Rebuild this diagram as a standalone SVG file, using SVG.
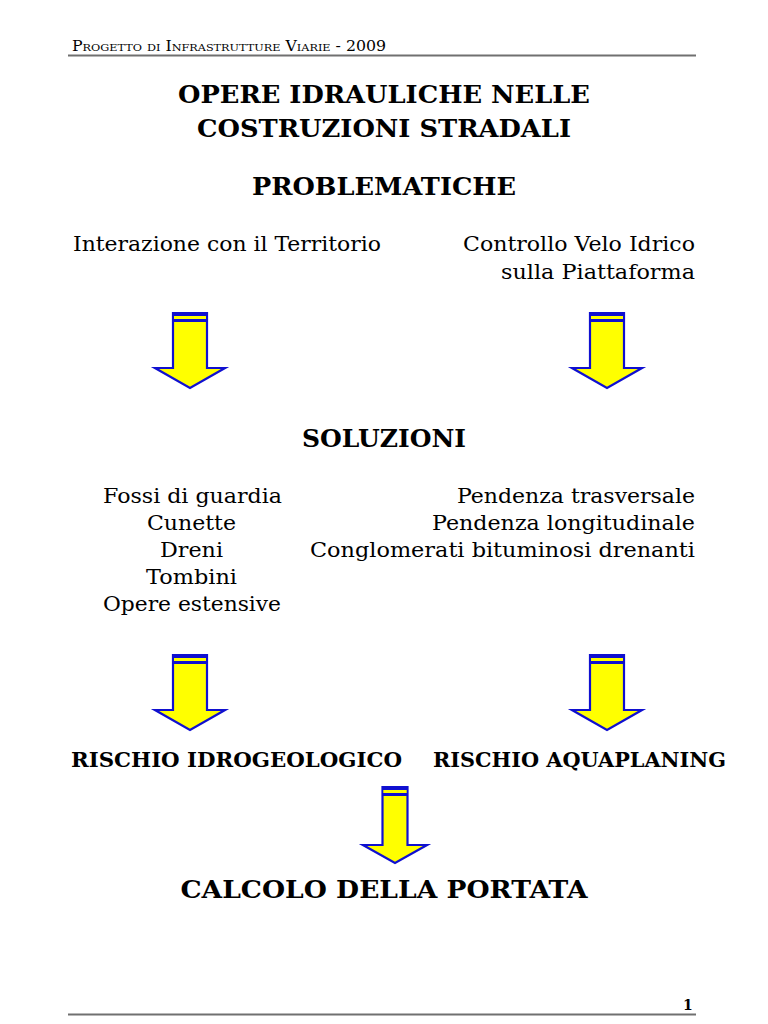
<svg xmlns="http://www.w3.org/2000/svg" width="768" height="1024" viewBox="0 0 768 1024">
<defs>
<style>
.t{font-family:"DejaVu Serif","Liberation Serif",serif;fill:#000}
.b{font-weight:bold}
.c{text-anchor:middle}
.r{text-anchor:end}
.n{font-size:20px}
.h{font-size:24px}
.s{font-size:20.5px}
.ar-shaft{fill:#ffff00;stroke:#1010d0;stroke-width:2.2;stroke-linejoin:miter}
.ar-band{fill:#1010d0}
.ar-gap{fill:#ffff00}
</style>
<g id="arrowBig">
<path class="ar-shaft" d="M-17,0 H17 V55 H35 L0,75 L-35,55 H-17 Z"/>
<rect class="ar-band" x="-17" y="0" width="34" height="3"/>
<rect class="ar-gap" x="-16" y="3" width="32" height="3"/>
<rect class="ar-band" x="-17" y="6" width="34" height="3"/>
</g>
<g id="arrowSmall">
<path class="ar-shaft" d="M-12.5,0 H12.5 V58 H32 L0,76 L-32,58 H-12.5 Z"/>
<rect class="ar-band" x="-12.5" y="0" width="25" height="3"/>
<rect class="ar-gap" x="-11.5" y="3" width="23" height="3"/>
<rect class="ar-band" x="-12.5" y="6" width="25" height="3"/>
</g>
</defs>
<rect width="768" height="1024" fill="#fff"/>

<g id="header">
<text class="t" x="72" y="51" font-size="14" style="font-variant:small-caps" textLength="314" lengthAdjust="spacingAndGlyphs">Progetto di Infrastrutture Viarie - 2009</text>
<line x1="68" y1="55.5" x2="696" y2="55.5" stroke="#707070" stroke-width="2"/>
</g>

<g id="title">
<text class="t b c h" x="384" y="103" textLength="412" lengthAdjust="spacingAndGlyphs">OPERE IDRAULICHE NELLE</text>
<text class="t b c h" x="384" y="137" textLength="374" lengthAdjust="spacingAndGlyphs">COSTRUZIONI STRADALI</text>
</g>

<g id="problematiche">
<text class="t b c h" x="384" y="195" textLength="264" lengthAdjust="spacingAndGlyphs">PROBLEMATICHE</text>
</g>

<g id="interazione">
<text class="t n" x="73" y="251" textLength="308" lengthAdjust="spacingAndGlyphs">Interazione con il Territorio</text>
</g>

<g id="controllo">
<text class="t n r" x="695" y="251" textLength="232" lengthAdjust="spacingAndGlyphs">Controllo Velo Idrico</text>
<text class="t n r" x="695" y="279" textLength="194" lengthAdjust="spacingAndGlyphs">sulla Piattaforma</text>
</g>

<g id="soluzioni">
<text class="t b c h" x="384" y="447" textLength="164" lengthAdjust="spacingAndGlyphs">SOLUZIONI</text>
</g>

<g id="soluzioni-territorio">
<text class="t n c" x="192.5" y="503" textLength="179" lengthAdjust="spacingAndGlyphs">Fossi di guardia</text>
<text class="t n c" x="191.5" y="530" textLength="89" lengthAdjust="spacingAndGlyphs">Cunette</text>
<text class="t n c" x="191.5" y="557" textLength="63" lengthAdjust="spacingAndGlyphs">Dreni</text>
<text class="t n c" x="191.5" y="584" textLength="91" lengthAdjust="spacingAndGlyphs">Tombini</text>
<text class="t n c" x="192" y="611" textLength="178" lengthAdjust="spacingAndGlyphs">Opere estensive</text>
</g>

<g id="soluzioni-piattaforma">
<text class="t n r" x="695" y="503" textLength="238" lengthAdjust="spacingAndGlyphs">Pendenza trasversale</text>
<text class="t n r" x="695" y="530" textLength="263" lengthAdjust="spacingAndGlyphs">Pendenza longitudinale</text>
<text class="t n r" x="695" y="557" textLength="385" lengthAdjust="spacingAndGlyphs">Conglomerati bituminosi drenanti</text>
</g>

<g id="rischio-idrogeologico">
<text class="t b s" x="71" y="767" textLength="331" lengthAdjust="spacingAndGlyphs">RISCHIO IDROGEOLOGICO</text>
</g>

<g id="rischio-aquaplaning">
<text class="t b s" x="433" y="767" textLength="293" lengthAdjust="spacingAndGlyphs">RISCHIO AQUAPLANING</text>
</g>

<g id="calcolo">
<text class="t b c h" x="384" y="898" textLength="407" lengthAdjust="spacingAndGlyphs">CALCOLO DELLA PORTATA</text>
</g>

<g id="connectors">
<use href="#arrowBig" x="190" y="313"/>
<use href="#arrowBig" x="607" y="313"/>
<use href="#arrowBig" x="190" y="655"/>
<use href="#arrowBig" x="607" y="655"/>
<use href="#arrowSmall" x="395" y="787"/>
</g>

<g id="footer">
<text class="t b" x="683" y="1010" font-size="14">1</text>
<line x1="68" y1="1014.5" x2="696" y2="1014.5" stroke="#707070" stroke-width="2"/>
</g>
</svg>
